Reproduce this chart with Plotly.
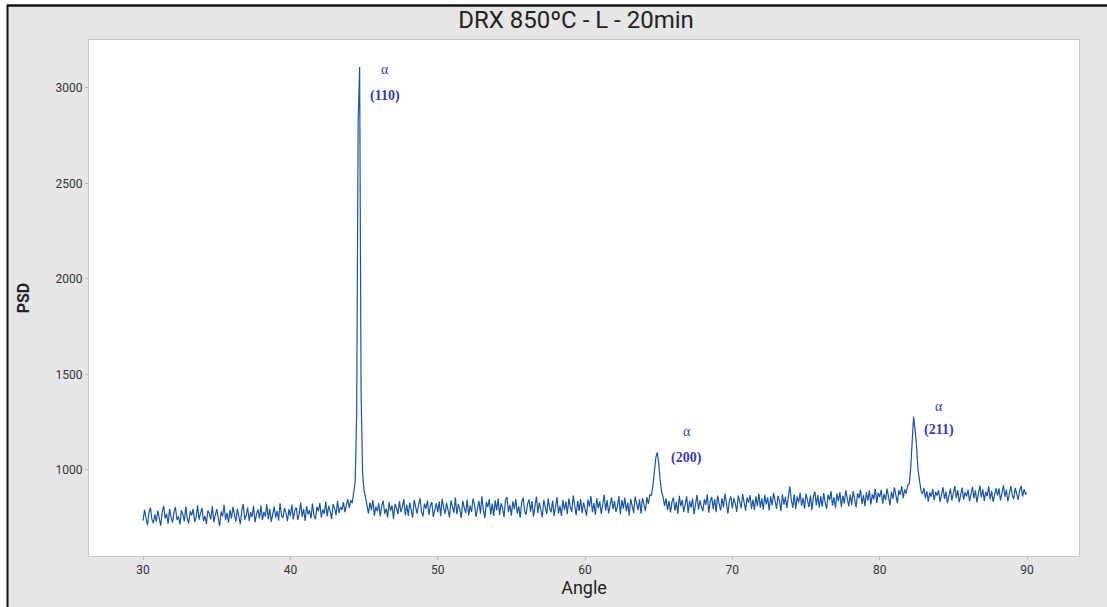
import numpy as np
import plotly.graph_objects as go

# Diffraction scan: 2-theta angle from 30 to 90 degrees in 0.1 degree steps
angle_start, angle_step = 30.0, 0.1

psd = [
    # 30.0 - 31.9
    735, 792, 748, 711, 776, 803, 741, 722, 768, 729, 787, 754, 708, 781, 812, 745, 771, 719, 796, 752,
    # 32.0 - 33.9
    724, 779, 806, 738, 757, 715, 790, 769, 731, 809, 746, 721, 784, 763, 797, 728, 752, 815, 740, 773,
    # 34.0 - 35.9
    802, 733, 759, 718, 788, 771, 742, 811, 727, 764, 795, 749, 706, 783, 758, 818, 737, 776, 724, 791,
    # 36.0 - 37.9
    745, 807, 772, 729, 798, 751, 716, 786, 822, 740, 763, 803, 733, 779, 754, 812, 726, 769, 794, 747,
    # 38.0 - 39.9
    815, 738, 781, 756, 820, 743, 797, 728, 774, 808, 751, 786, 735, 826, 762, 749, 801, 776, 732, 795,
    # 40.0 - 41.9
    758, 819, 741, 787, 803, 739, 772, 829, 754, 796, 733, 811, 768, 790, 746, 824, 761, 742, 808, 783,
    # 42.0 - 43.9
    827, 751, 794, 770, 835, 757, 812, 786, 744, 821, 799, 763, 838, 775, 806, 791, 832, 779, 815, 848,
    # 44.0 - 45.9  (alpha 110 reflection)
    801, 842, 826, 872, 940, 1300, 2820, 3110, 1400, 985, 892, 858, 815, 772, 829, 790, 843, 761, 808, 784,
    # 46.0 - 47.9
    826, 757, 812, 839, 771, 798, 752, 831, 786, 815, 744, 822, 801, 768, 836, 779, 806, 847, 763, 819,
    # 48.0 - 49.9
    760, 829, 790, 751, 843, 806, 772, 818, 852, 783, 757, 824, 797, 840, 765, 811, 833, 754, 801, 827,
    # 50.0 - 51.9
    779, 836, 758, 849, 804, 770, 828, 793, 752, 841, 812, 776, 856, 768, 821, 795, 749, 838, 803, 774,
    # 52.0 - 53.9
    845, 762, 814, 781, 851, 818, 755, 797, 839, 771, 862, 790, 748, 833, 806, 848, 766, 824, 759, 841,
    # 54.0 - 55.9
    788, 850, 764, 826, 801, 753, 842, 859, 779, 817, 761, 836, 795, 847, 772, 810, 750, 831, 855, 784,
    # 56.0 - 57.9
    766, 823, 846, 782, 837, 756, 809, 861, 775, 829, 793, 752, 844, 814, 769, 852, 799, 778, 840, 760,
    # 58.0 - 59.9
    825, 858, 771, 812, 759, 843, 790, 834, 768, 851, 806, 781, 866, 817, 763, 839, 786, 848, 774, 830,
    # 60.0 - 61.9
    792, 761, 845, 808, 863, 779, 827, 766, 852, 800, 836, 770, 818, 871, 787, 842, 773, 823, 857, 795,
    # 62.0 - 63.9
    838, 781, 809, 864, 769, 843, 798, 855, 784, 829, 762, 849, 812, 776, 860, 821, 790, 846, 771, 853,
    # 64.0 - 65.9  (alpha 200 reflection)
    826, 785, 858, 822, 870, 868, 910, 990, 1062, 1092, 1035, 948, 886, 859, 812, 851, 790, 839, 778, 832,
    # 66.0 - 67.9
    856, 787, 833, 770, 865, 809, 844, 781, 826, 862, 775, 838, 803, 851, 768, 829, 870, 792, 841, 806,
    # 68.0 - 69.9
    784, 847, 818, 872, 776, 835, 859, 795, 848, 779, 866, 822, 788, 853, 804, 878, 817, 772, 842, 861,
    # 70.0 - 71.9
    799, 852, 824, 780, 866, 835, 801, 874, 818, 787, 857, 829, 869, 796, 845, 790, 862, 811, 877, 803,
    # 72.0 - 73.9
    851, 792, 869, 820, 856, 788, 862, 815, 880, 826, 797, 865, 838, 786, 873, 819, 859, 800, 848, 915,
    # 74.0 - 75.9
    846, 801, 872, 795, 861, 829, 882, 812, 856, 797, 876, 834, 806, 868, 791, 859, 887, 815, 870, 803,
    # 76.0 - 77.9
    862, 808, 879, 831, 796, 871, 842, 889, 813, 858, 800, 877, 836, 884, 806, 866, 825, 893, 850, 810,
    # 78.0 - 79.9
    871, 817, 889, 843, 804, 878, 852, 897, 822, 868, 811, 884, 839, 894, 818, 873, 846, 902, 828, 880,
    # 80.0 - 81.9
    858, 896, 823, 875, 842, 903, 861, 815, 887, 849, 909, 866, 826, 894, 870, 915, 852, 898, 876, 920,
    # 82.0 - 83.9  (alpha 211 reflection)
    925, 1000, 1185, 1278, 1210, 1130, 1005, 930, 893, 874, 906, 851, 889, 836, 882, 860, 900, 842, 885, 866,
    # 84.0 - 85.9
    894, 833, 876, 909, 848, 887, 826, 869, 902, 841, 880, 916, 853, 895, 831, 872, 908, 845, 884, 862,
    # 86.0 - 87.9
    897, 836, 879, 912, 851, 893, 830, 875, 918, 856, 899, 838, 885, 864, 914, 846, 890, 833, 877, 905,
    # 88.0 - 89.9
    866, 904, 840, 888, 920, 859, 897, 835, 880, 915, 869, 848, 906, 877, 843, 892, 918, 861, 899, 873,
    # 90.0
    880,
]
angle = np.round(angle_start + angle_step * np.arange(len(psd)), 2)

# Indexed reflections of the alpha phase
peak_labels = ["(110)", "(200)", "(211)"]
label_x = [46.4, 66.9, 84.0]
label_alpha_y = [3094, 1204, 1330]
label_hkl_y = [2958, 1063, 1209]

x_ticks = [30, 40, 50, 60, 70, 80, 90]
y_ticks = [1000, 1500, 2000, 2500, 3000]

fig = go.Figure()
fig.add_trace(go.Scatter(
    x=angle, y=psd, mode="lines",
    line=dict(color="#1a56a5", width=1.2),
    showlegend=False, hoverinfo="x+y",
))

lbl_font = dict(family="Liberation Serif, DejaVu Serif, serif", size=14, color="#3a3ab8")
for lx, ay, hy, hkl in zip(label_x, label_alpha_y, label_hkl_y, peak_labels):
    fig.add_annotation(x=lx, y=ay, text="α", showarrow=False, font=lbl_font,
                       xanchor="center", yanchor="middle")
    fig.add_annotation(x=lx, y=hy, text="<b>" + hkl + "</b>", showarrow=False, font=lbl_font,
                       xanchor="center", yanchor="middle")

W, H = 1107, 607
ml, mr, mt, mb = 89, 28, 40, 51
pw, ph = W - ml - mr, H - mt - mb


def px_x(px):
    return (px - ml) / pw


def px_y(py):
    return (H - mb - py) / ph


# white strip above and left of the framed graph region, with its dark edge
fig.add_shape(type="rect", xref="paper", yref="paper", x0=px_x(-5), x1=px_x(W + 5),
              y0=px_y(5), y1=px_y(-5), fillcolor="white", line_width=0, layer="below")
fig.add_shape(type="rect", xref="paper", yref="paper", x0=px_x(-5), x1=px_x(7),
              y0=px_y(H + 5), y1=px_y(-5), fillcolor="white", line_width=0, layer="below")
fig.add_shape(type="line", xref="paper", yref="paper", x0=px_x(7), x1=px_x(W + 5),
              y0=px_y(5.5), y1=px_y(5.5), line=dict(color="#111111", width=2.5))
fig.add_shape(type="line", xref="paper", yref="paper", x0=px_x(7.5), x1=px_x(7.5),
              y0=px_y(5), y1=px_y(H + 5), line=dict(color="#111111", width=2))

tick_font = dict(family="Roboto, sans-serif", size=12, color="#333333")
fig.update_layout(
    width=W, height=H,
    margin=dict(l=ml, r=mr, t=mt, b=mb),
    paper_bgcolor="#e6e6e6",
    plot_bgcolor="white",
    title=dict(text="DRX 850ºC - L - 20min", xref="container", x=576 / W, xanchor="center",
               y=1 - 20 / H, yanchor="middle",
               font=dict(family="Roboto, sans-serif", size=24, color="#222222")),
    xaxis=dict(range=[26.33, 93.53], tickvals=x_ticks, ticks="outside", ticklen=3,
               tickcolor="#bbbbbb", tickfont=tick_font, showgrid=False, zeroline=False,
               showline=True, linecolor="#c8c8c8", mirror=True,
               title=dict(text="Angle", standoff=4,
                          font=dict(family="Roboto, sans-serif", size=18, color="#222222"))),
    yaxis=dict(range=[549.7, 3251], tickvals=y_ticks, ticks="outside", ticklen=3,
               tickcolor="#bbbbbb", tickfont=tick_font, showgrid=False, zeroline=False,
               showline=True, linecolor="#c8c8c8", mirror=True,
               title=dict(text="<b>PSD</b>", standoff=22,
                          font=dict(family="Roboto, sans-serif", size=16, color="#222222"))),
)

fig.write_html("out.html")
